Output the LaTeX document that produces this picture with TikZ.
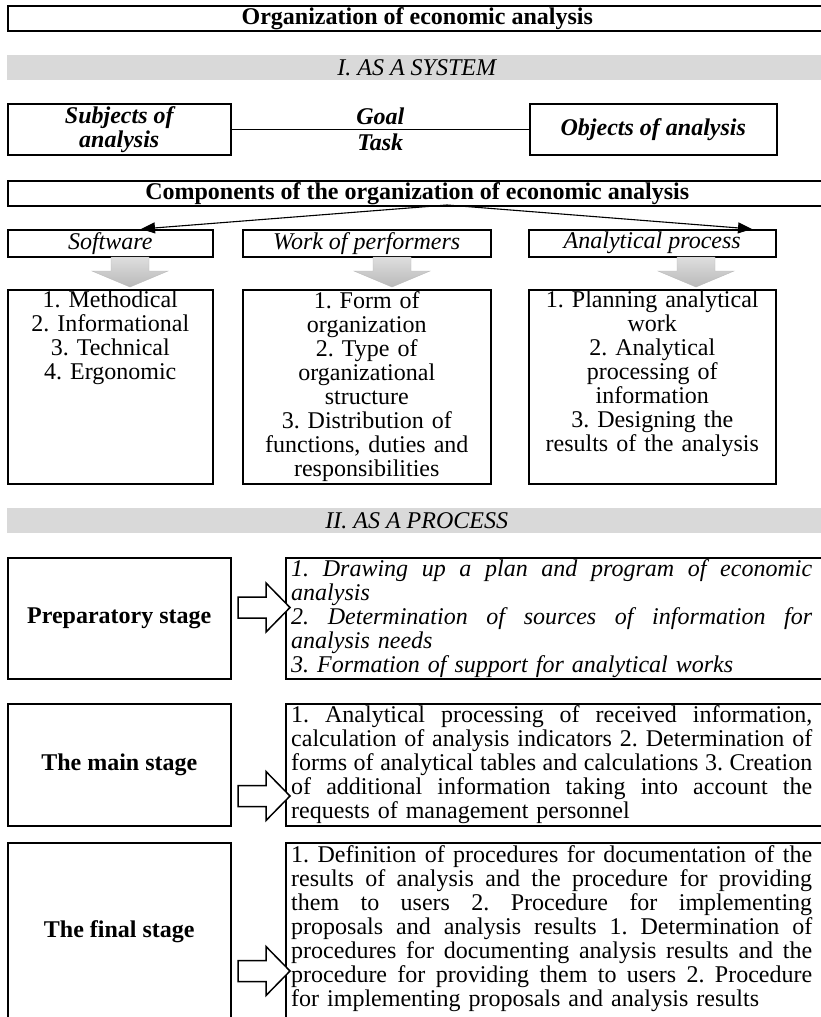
\documentclass[tikz,border=0pt]{standalone}
\usepackage{fontspec}
\setmainfont{Liberation Serif}
\usetikzlibrary{arrows.meta}
\definecolor{bandgray}{HTML}{D9D9D9}
\definecolor{arrowlight}{HTML}{DEDEDE}
\definecolor{arrowdark}{HTML}{B9B9B9}
\newlength\colw
\setlength\colw{521pt}
% one justified line of a paragraph: word gaps stretch to fill the column
\newcommand\jline[1]{\leavevmode\hbox to\colw{\spaceskip=0.25em plus 1fil\relax#1}\\}
\newcommand\basefont{\fontsize{24}{24}\selectfont\frenchspacing}
\newcommand\listfont{\fontsize{24}{24}\selectfont\frenchspacing}

\begin{document}
\begin{tikzpicture}[x=1pt, y=-1pt,
  frame/.style={draw=black, line width=1.5pt, anchor=north west, inner sep=0pt, font=\basefont},
  wide/.style={frame, minimum width=819pt, minimum height=25pt, font=\basefont\bfseries},
  band/.style={fill=bandgray, anchor=north west, inner sep=0pt, minimum width=819pt,
               minimum height=25pt, font=\basefont\itshape},
  actor/.style={frame, minimum height=51pt, align=center, font=\basefont\bfseries\itshape},
  head/.style={frame, minimum height=27pt, font=\basefont\itshape},
  listbox/.style={frame, minimum height=194pt},
  listtext/.style={inner sep=0pt, anchor=north, align=center, font=\listfont},
  stage/.style={frame, minimum width=223pt, font=\basefont\bfseries},
  content/.style={frame, minimum width=541pt},
  para/.style={inner sep=0pt, align=left, text width=\colw, font=\basefont},
  link/.style={line width=1.2pt},
  split/.style={line width=1.1pt, -{Triangle[length=14pt,width=11pt]}},
  pics/downarrow/.style={code={
    \shadedraw[top color=arrowlight, bottom color=arrowdark, draw=arrowdark, line width=0.4pt]
      (-19,0) -- (19,0) -- (19,14) -- (38,14) -- (0,30) -- (-38,14) -- (-19,14) -- cycle;}},
  pics/stagearrow/.style={code={
    \draw[fill=white, line width=1.5pt, line join=miter]
      (-52,-10.5) -- (-24,-10.5) -- (-24,-24.5) -- (0,0) -- (-24,24.5) -- (-24,10.5) -- (-52,10.5) -- cycle;}},
]
\clip (0,0) rectangle (821,1017);

% ---- title and the system part ----
\node[wide] (title) at (7,5) {Organization of economic analysis};
\node[band] (sys) at (7,55) {I. AS A SYSTEM};

\node[actor, minimum width=223pt] (subj) at (7,103) {Subjects of\\analysis};
\node[actor, minimum width=247pt] (obj) at (529,103) {Objects of analysis};
\draw[link] (subj.east) -- (obj.west)
  node[midway, above=1pt, font=\basefont\bfseries\itshape] (goal) {Goal}
  node[midway, below=1pt, font=\basefont\bfseries\itshape] (task) {Task};

\node[wide] (comp) at (7,180) {Components of the organization of economic analysis};

\node[head, minimum width=205pt] (soft) at (7,229) {Software};
\node[head, minimum width=248pt] (work) at (242,229) {Work of performers};
\node[head, minimum width=247pt] (anal) at (528,229) {Analytical process};

\coordinate (fork) at (447,205);
\coordinate (softin) at (141,229);
\coordinate (analin) at (752,229);
\draw[split] (fork) -- (softin);
\draw[split] (fork) -- (analin);

\pic at (130,257) {downarrow};
\pic at (392,257) {downarrow};
\pic at (696,257) {downarrow};

\node[listbox, minimum width=205pt] (softl) at (7,289) {};
\node[listbox, minimum width=248pt] (workl) at (242,289) {};
\node[listbox, minimum width=247pt] (anall) at (528,289) {};

\node[listtext, text width=200pt] (softt) at ([yshift=-2pt]softl.north)
  {1. Methodical\\2. Informational\\3. Technical\\4. Ergonomic};
\node[listtext, text width=244pt] (workt) at ([yshift=-2pt]workl.north)
  {1. Form of\\organization\\2. Type of\\organizational\\structure\\3. Distribution of\\functions, duties and\\responsibilities};
\node[listtext, text width=244pt] (analt) at ([yshift=-2pt]anall.north)
  {1. Planning analytical\\work\\2. Analytical\\processing of\\information\\3. Designing the\\results of the analysis};

% ---- the process part ----
\node[band] (proc) at (7,508) {II. AS A PROCESS};

\node[stage, minimum height=121pt] (prep) at (7,557) {Preparatory stage};
\node[content, minimum height=121pt] (prepc) at (285,557) {};
\node[para, anchor=west, font=\basefont\itshape] (prept) at ([xshift=6pt]prepc.west)
  {\jline{1. Drawing up a plan and program of economic}
   analysis\\
   \jline{2. Determination of sources of information for}
   analysis needs\\
   3. Formation of support for analytical works};
\pic at (290,607.5) {stagearrow};

\node[stage, minimum height=122pt] (main) at (7,703) {The main stage};
\node[content, minimum height=122pt] (mainc) at (285,703) {};
\node[para, anchor=west] (maint) at ([xshift=6pt]mainc.west)
  {\jline{1. Analytical processing of received information,}
   \jline{calculation of analysis indicators 2. Determination of}
   \jline{forms of analytical tables and calculations 3. Creation}
   \jline{of additional information taking into account the}
   requests of management personnel};
\pic at (290,796) {stagearrow};

\node[stage, minimum height=177pt] (final) at (7,842) {The final stage};
\node[content, minimum height=177pt] (finalc) at (285,842) {};
\node[para, anchor=north west] (finalt) at ([xshift=6pt,yshift=-3pt]finalc.north west)
  {\jline{1. Definition of procedures for documentation of the}
   \jline{results of analysis and the procedure for providing}
   \jline{them to users 2. Procedure for implementing}
   \jline{proposals and analysis results 1. Determination of}
   \jline{procedures for documenting analysis results and the}
   \jline{procedure for providing them to users 2. Procedure}
   for implementing proposals and analysis results};
\pic at (290,971) {stagearrow};
\end{tikzpicture}
\end{document}
